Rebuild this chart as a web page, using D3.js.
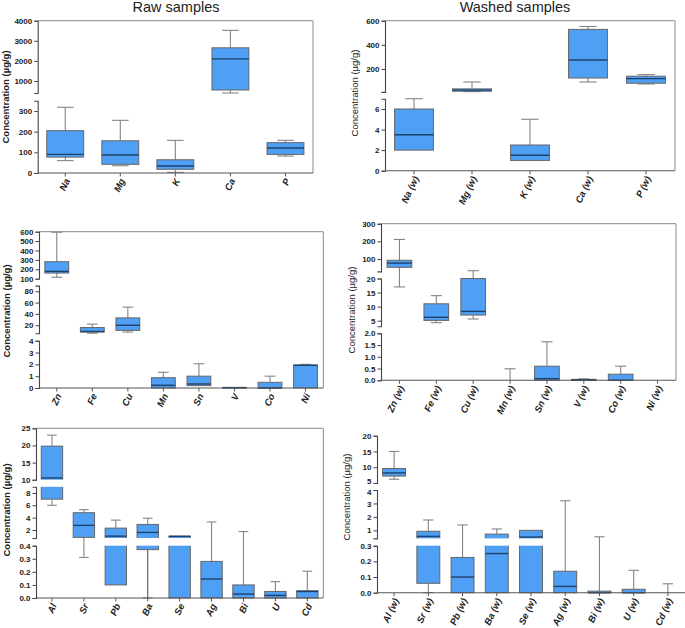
<!DOCTYPE html>
<html><head><meta charset="utf-8">
<script src="https://cdn.jsdelivr.net/npm/d3@7"></script>
<style>body{margin:0;background:#fff}svg{display:block}text{font-family:"Liberation Sans",Arial,sans-serif}</style>
</head><body>
<svg id="c" width="685" height="628"></svg>
<script>
// ---------- DATA: [min, Q1, median, Q3, max] per category ----------
const rawMajorCats = ["Na","Mg","K","Ca","P"];
const rawMajor = [[60,77,90,205,318],[35,42,87,156,255],[3,18,34,64,158],[400,550,2100,2650,3520],[82,90,121,147,158]];
const rawMajorSegs = [[0,350],[400,4000]];
const rawMajorTicks = [[0,100,200,300],[1000,2000,3000,4000]];

const washedMajorCats = ["Na (w)","Mg (w)","K (w)","Ca (w)","P (w)"];
const washedMajor = [[2,2,3.5,6,7],[12,16,25,35,92],[1,1,1.5,2.5,5],[92,125,274,528,552],[76,82,120,140,153]];
const washedMajorSegs = [[0,7],[10,600]];
const washedMajorTicks = [[0,2,4,6],[200,400,600]];

const rawTraceCats = ["Zn","Fe","Cu","Mn","Sn","V","Co","Ni"];
const rawTrace = [[115,160,178,281,594],[6,8,9,16,22],[8,11,20,33,52],[0,0,0.23,0.87,1.33],[0.2,0.2,0.34,1.0,2.05],[0,0,0.03,0.05,0.05],[0,0,0,0.48,1.0],[0,0,1.92,1.94,2.0]];
const rawTraceSegs = [[0,4],[6,90],[100,600]];
const rawTraceTicks = [[0,1,2,3,4],[20,40,60,80],[100,200,300,400,500,600]];

const washedTraceCats = ["Zn (w)","Fe (w)","Cu (w)","Mn (w)","Sn (w)","V (w)","Co (w)","Ni (w)"];
const washedTrace = [[17,53,77,93,211],[4.3,5.1,6.2,11,13.9],[5.6,7,8.3,20,34],[0,0,0,0,0.49],[0,0,0.07,0.6,1.64],[0,0,0.02,0.04,0.06],[0,0,0,0.26,0.6],[0,0,0,0,0]];
const washedTraceSegs = [[0,2],[3,20],[30,300]];
const washedTraceTicks = [[0,0.5,1,1.5,2],[5,10,15,20],[100,200,300]];

const rawOtherCats = ["Al","Sr","Pb","Ba","Se","Ag","Bi","U","Cd"];
const rawOther = [[6,7,10.5,19.8,23],[0.31,0.8,2.75,4.8,5.3],[0.1,0.1,1.0,2.3,3.6],[0,0.37,1.6,2.9,3.9],[0,0,0.97,1.0,1.0],[0,0,0.145,0.28,3.3],[0,0,0.03,0.1,1.75],[0,0,0.02,0.05,0.125],[0,0,0.05,0.055,0.205]];
const rawOtherSegs = [[0,0.4],[0.7,9],[10,25]];
const rawOtherTicks = [[0,0.1,0.2,0.3,0.4],[2,4,6,8],[10,15,20,25]];

const washedOtherCats = ["Al (w)","Sr (w)","Pb (w)","Ba (w)","Se (w)","Ag (w)","Bi (w)","U (w)","Cd (w)"];
const washedOther = [[6.2,7.2,8.2,9.6,15],[0,0.06,0.55,0.93,1.77],[0,0,0.1,0.225,1.4],[0,0,0.25,0.72,1.1],[0,0,0.5,1.0,1.0],[0,0,0.04,0.137,3.2],[0,0,0,0.01,0.52],[0,0,0,0.022,0.143],[0,0,0,0,0.057]];
const washedOtherSegs = [[0,0.3],[0.4,4],[5,20]];
const washedOtherTicks = [[0,0.1,0.2,0.3],[1,2,3,4],[5,10,15,20]];

const titles = ["Raw samples","Washed samples"];
const yTitle = "Concentration (µg/g)";

// ---------- LAYOUT ----------
const panels = [
  {cats:rawMajorCats, data:rawMajor, segs:rawMajorSegs, ticks:rawMajorTicks, fmt:null,
   x0:37.7, x1:313, ranges:[[173,100.7],[93,20.7]], frame:true, bold:true, lx:9, ly:97},
  {cats:washedMajorCats, data:washedMajor, segs:washedMajorSegs, ticks:washedMajorTicks, fmt:null,
   x0:385, x1:675, ranges:[[170.7,98.7],[91.9,20.7]], frame:true, bold:false, lx:358, ly:93},
  {cats:rawTraceCats, data:rawTrace, segs:rawTraceSegs, ticks:rawTraceTicks, fmt:null,
   x0:39, x1:323.3, ranges:[[388,340.7],[333.2,285.6],[278.7,231.7]], frame:true, bold:true, lx:10, ly:311},
  {cats:washedTraceCats, data:washedTrace, segs:washedTraceSegs, ticks:washedTraceTicks, fmt:[".1f",null,null],
   x0:381, x1:676, ranges:[[380.3,333.3],[326.3,278.5],[271.4,223.7]], frame:true, bold:false, lx:355, ly:310},
  {cats:rawOtherCats, data:rawOther, segs:rawOtherSegs, ticks:rawOtherTicks, fmt:[".1f",null,null],
   x0:36, x1:323.3, ranges:[[598,545.7],[538,486.8],[479.7,428.3]], frame:true, bold:true, lx:10, ly:510},
  {cats:washedOtherCats, data:washedOther, segs:washedOtherSegs, ticks:washedOtherTicks, fmt:[".1f",null,null],
   x0:377, x1:685, ranges:[[592.7,545.7],[538.4,490],[483,435.7]], frame:false, bold:false, lx:350, ly:497}
];

const svg = d3.select("#c");
const FILL="#4f9ff5", BOXSTROKE="#666", MED="#1f406a", WH="#858585";

svg.append("text").attr("x",176).attr("y",12).attr("text-anchor","middle").attr("font-size",14.5).attr("fill","#222").text(titles[0]);
svg.append("text").attr("x",515).attr("y",12).attr("text-anchor","middle").attr("font-size",14.5).attr("fill","#222").text(titles[1]);

panels.forEach((p,pi)=>{
  const g = svg.append("g");
  const scales = p.segs.map((d,i)=>d3.scaleLinear().domain(d).range(p.ranges[i]));
  const y = v=>{
    for(let i=0;i<p.segs.length;i++){ if(v>=p.segs[i][0] && v<=p.segs[i][1]) return scales[i](v); }
    if(v<p.segs[0][0]) return scales[0](p.segs[0][0]);
    for(let i=0;i<p.segs.length-1;i++){
      if(v>p.segs[i][1] && v<p.segs[i+1][0]){
        return (v-p.segs[i][1] < p.segs[i+1][0]-v) ? scales[i](p.segs[i][1]) : scales[i+1](p.segs[i+1][0]);
      }
    }
    const L=p.segs.length-1; return scales[L](p.segs[L][1]);
  };
  const x = d3.scaleBand().domain(p.cats).range([p.x0,p.x1]).padding(0);
  const bw = x.bandwidth()*0.67, cw = bw*0.45;
  const yb = p.ranges[0][0], yt = p.ranges[p.ranges.length-1][1];

  if(p.frame){
    g.append("path").attr("d",`M${p.x0},${yt}H${p.x1}V${yb}`).attr("fill","none").attr("stroke","#8a8a8a").attr("stroke-width",1);
  }
  p.data.forEach((s,i)=>{
    const cx = x(p.cats[i]) + x.bandwidth()/2;
    const [mn,q1,md,q3,mx] = s;
    const bg = g.append("g");
    if(mx>q3){
      bg.append("line").attr("x1",cx).attr("x2",cx).attr("y1",y(q3)).attr("y2",y(mx)).attr("stroke",WH).attr("stroke-width",1.1);
      bg.append("line").attr("x1",cx-cw/2).attr("x2",cx+cw/2).attr("y1",y(mx)).attr("y2",y(mx)).attr("stroke",WH).attr("stroke-width",1.1);
    }
    if(mn<q1){
      bg.append("line").attr("x1",cx).attr("x2",cx).attr("y1",y(q1)).attr("y2",y(mn)).attr("stroke",(pi===4&&i===3)?"#555":WH).attr("stroke-width",1.1);
      bg.append("line").attr("x1",cx-cw/2).attr("x2",cx+cw/2).attr("y1",y(mn)).attr("y2",y(mn)).attr("stroke",WH).attr("stroke-width",1.1);
    }
    const top=y(q3), bot=y(q1);
    if(bot-top>0.3){
      bg.append("rect").attr("x",cx-bw/2).attr("y",top).attr("width",bw).attr("height",bot-top)
        .attr("fill",FILL).attr("stroke",BOXSTROKE).attr("stroke-width",1);
    }
    for(let k=0;k<p.ranges.length-1;k++){
      const gb = p.ranges[k][1], gt = p.ranges[k+1][0];
      if(top<gt && bot>gb){
        bg.append("rect").attr("x",cx-bw/2-1.5).attr("y",gt).attr("width",bw+3).attr("height",gb-gt).attr("fill","#fff");
      }
    }
    if(bot-top>0.3){
      bg.append("line").attr("x1",cx-bw/2).attr("x2",cx+bw/2).attr("y1",y(md)).attr("y2",y(md)).attr("stroke",MED).attr("stroke-width",1.4);
    }
  });

  // find neighbouring tick labels across a break that sit too close
  const nudgeUp = new Set(), nudgeDown = new Set();
  for(let i=0;i<p.segs.length-1;i++){
    const lowTop = p.ticks[i][p.ticks[i].length-1], upLow = p.ticks[i+1][0];
    if(scales[i](lowTop) - scales[i+1](upLow) < 10){ nudgeDown.add(i+":"+lowTop); nudgeUp.add((i+1)+":"+upLow); }
  }

  p.segs.forEach((d,i)=>{
    const f = p.fmt && p.fmt[i] ? d3.format(p.fmt[i]) : d3.format("d");
    const ax = d3.axisLeft(scales[i]).tickValues(p.ticks[i]).tickSize(3.5).tickSizeOuter(3.5).tickPadding(2).tickFormat(f);
    const ag = g.append("g").attr("transform",`translate(${p.x0},0)`).call(ax);
    ag.select(".domain").attr("stroke","#444").attr("stroke-width",1.1);
    ag.selectAll(".tick line").attr("stroke","#444");
    ag.selectAll(".tick text").attr("font-size",8).attr("font-weight","bold").attr("fill","#222").attr("font-family","'Liberation Sans',Arial,sans-serif")
      .each(function(t){
        if(nudgeUp.has(i+":"+t)) d3.select(this).attr("dy","0.1em");
        if(nudgeDown.has(i+":"+t)) d3.select(this).attr("dy","0.6em");
      });
  });

  const xg = g.append("g").attr("transform",`translate(0,${yb})`);
  xg.append("line").attr("x1",p.x0).attr("x2",p.x1).attr("stroke","#555").attr("stroke-width",1.1);
  p.cats.forEach(c=>{
    const cx = x(c)+x.bandwidth()/2;
    xg.append("line").attr("x1",cx).attr("x2",cx).attr("y1",0).attr("y2",3.5).attr("stroke","#555");
    xg.append("text").attr("transform",`translate(${cx+2},${6}) rotate(-65)`).attr("text-anchor","end").attr("dy","0.35em")
      .attr("font-size",9.5).attr("font-weight","bold").attr("font-style","italic").attr("fill","#222").text(c);
  });

  svg.append("text").attr("transform",`translate(${p.lx},${p.ly}) rotate(-90)`).attr("text-anchor","middle")
    .attr("font-size",9.5).attr("font-weight",p.bold?"bold":"normal").attr("fill","#222").text(yTitle);
});
</script>
</body></html>
